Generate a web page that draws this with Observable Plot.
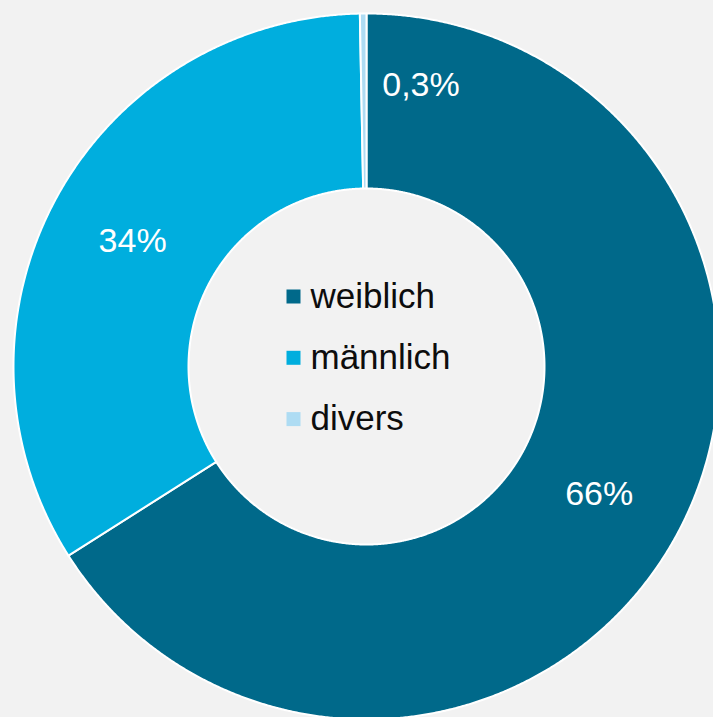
<!DOCTYPE html>
<html><head><meta charset="utf-8">
<script src="https://cdn.jsdelivr.net/npm/d3@7"></script>
<script src="https://cdn.jsdelivr.net/npm/@observablehq/plot@0.6"></script>
<style>html,body{margin:0;padding:0;background:#F2F2F2;overflow:hidden}</style>
</head><body><div id="chart"></div>
<script>
const categories = ["weiblich", "männlich", "divers"];
const values = [66.0, 33.7, 0.3];
const labels = ["66%", "34%", "0,3%"];
const colors = ["#00698A", "#00AEDE", "#AEDCF3"];

const W = 713, H = 717, cx = 366, cy = 366, R0 = 353, R1 = 178;
const data = categories.map((c, i) => ({category: c, value: values[i], label: labels[i]}));
const arcs = d3.pie().sort(null).value(d => d.value)(data);

const pt = (r, a) => [cx + r * Math.sin(a), cy - r * Math.cos(a)];
const ring = [];
arcs.forEach(a => {
  const n = Math.max(2, Math.ceil((a.endAngle - a.startAngle) / (Math.PI / 720)));
  for (let k = 0; k <= n; k++) {
    const t = a.startAngle + (a.endAngle - a.startAngle) * k / n;
    const [x, y] = pt(R0, t); ring.push({category: a.data.category, x, y});
  }
  for (let k = n; k >= 0; k--) {
    const t = a.startAngle + (a.endAngle - a.startAngle) * k / n;
    const [x, y] = pt(R1, t); ring.push({category: a.data.category, x, y});
  }
});

const lbl = arcs.map(a => {
  const m = (a.startAngle + a.endAngle) / 2;
  const [x, y] = pt((R0 + R1) / 2, m);
  return {x, y, label: a.data.label, small: a.data.value < 2};
});

const legend = categories.map((c, i) => ({category: c, x: 293, y: 296 + 61.3 * i}));

const chart = Plot.plot({
  width: W, height: H, margin: 0,
  x: {domain: [0, W], range: [0, W], axis: null},
  y: {domain: [0, H], range: [0, H], axis: null},
  color: {domain: categories, range: colors},
  style: {background: "#F2F2F2", fontFamily: "'Liberation Sans', Arial, sans-serif"},
  marks: [
    Plot.line(ring, {x: "x", y: "y", z: "category", fill: "category", stroke: "white", strokeWidth: 2, curve: "linear-closed"}),
    Plot.text(lbl.filter(d => !d.small), {x: "x", y: "y", text: "label", fill: "white", fontSize: 34, lineAnchor: "middle"}),
    Plot.text(lbl.filter(d => d.small), {x: "x", y: "y", text: "label", fill: "white", fontSize: 34, lineAnchor: "middle", dx: 57, dy: -16}),
    Plot.dot(legend, {x: "x", y: "y", fill: "category", symbol: "square", r: 7.9, stroke: null}),
    Plot.text(legend, {x: d => d.x + 17, y: "y", text: "category", fill: "#0d0d0d", fontSize: 35, textAnchor: "start", lineAnchor: "middle"})
  ]
});
document.getElementById("chart").append(chart);
</script>
</body></html>
